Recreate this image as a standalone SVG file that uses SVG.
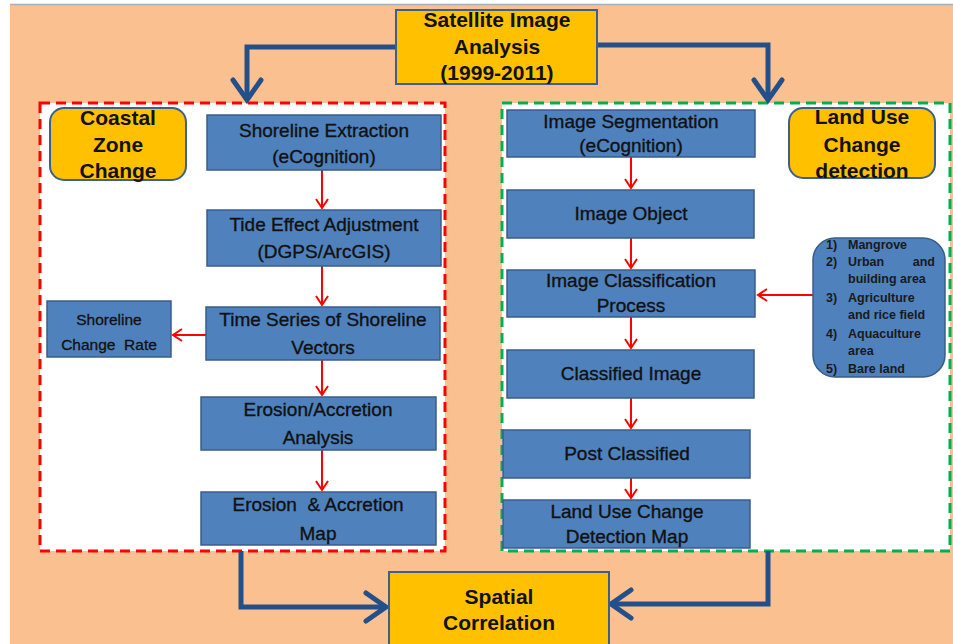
<svg xmlns="http://www.w3.org/2000/svg" width="953" height="644" viewBox="0 0 953 644">
  <style>
    .bg { fill: #FAC090; }
    .panel { fill: #FFFFFF; stroke-width: 3; stroke-dasharray: 10 6; }
    .red-dash { stroke: #FF0000; }
    .green-dash { stroke: #00B050; }
    .step { fill: #4F81BD; stroke: #385D8A; stroke-width: 1.5; }
    .key { fill: #FFC000; stroke: #3C5F8C; stroke-width: 2; }
    .t { font-family: "Liberation Sans", Arial, sans-serif; font-size: 19px; fill: #111111; stroke: #111111; stroke-width: 0.35; text-anchor: middle; }
    .h { font-family: "Liberation Sans", Arial, sans-serif; font-size: 21px; font-weight: bold; fill: #111111; text-anchor: middle; }
    .s { font-family: "Liberation Sans", Arial, sans-serif; font-size: 15.5px; fill: #111111; stroke: #111111; stroke-width: 0.3; text-anchor: middle; }
    .li { font-family: "Liberation Sans", Arial, sans-serif; font-size: 12.5px; font-weight: bold; fill: #1A1A1A; }
    .flow { fill: none; stroke: #FF0000; stroke-width: 2; }
    .main { fill: none; stroke: #24508A; stroke-width: 5; }
  </style>
  <defs>
    <marker id="redHead" viewBox="0 0 10 12" refX="9" refY="6" markerWidth="10" markerHeight="12" markerUnits="userSpaceOnUse" orient="auto" overflow="visible">
      <path d="M0,0 L9,6 L0,12" fill="none" stroke="#FF0000" stroke-width="2"/>
    </marker>
    <marker id="blueHead" viewBox="0 0 22 30" refX="20" refY="15" markerWidth="22" markerHeight="30" markerUnits="userSpaceOnUse" orient="auto" overflow="visible">
      <path d="M0,1 L20,15 L0,29" fill="none" stroke="#24508A" stroke-width="5" stroke-linecap="round" stroke-linejoin="miter"/>
    </marker>
  </defs>

  <!-- canvas -->
  <rect x="0" y="0" width="953" height="644" fill="#FFFFFF"/>
  <rect class="bg" x="10" y="4" width="943" height="640"/>
  <line x1="10" y1="4.5" x2="953" y2="4.5" stroke="#A7AEBB" stroke-width="1.5"/>

  <!-- working areas -->
  <rect id="coastal-panel" class="panel red-dash" x="40" y="103" width="405" height="448"/>
  <rect id="landuse-panel" class="panel green-dash" x="502" y="103" width="448" height="448"/>

  <!-- connectors -->
  <g id="connectors">
    <path class="main" d="M396,47 H247 V100" marker-end="url(#blueHead)"/>
    <path class="main" d="M597,45 H768 V100" marker-end="url(#blueHead)"/>
    <path class="main" d="M241,551 V607 H386" marker-end="url(#blueHead)"/>
    <path class="main" d="M768,551 V604 H611" marker-end="url(#blueHead)"/>

    <path class="flow" d="M322,170 V208" marker-end="url(#redHead)"/>
    <path class="flow" d="M322,266 V305" marker-end="url(#redHead)"/>
    <path class="flow" d="M322,360 V395" marker-end="url(#redHead)"/>
    <path class="flow" d="M322,450 V490" marker-end="url(#redHead)"/>
    <path class="flow" d="M206,335 H173" marker-end="url(#redHead)"/>

    <path class="flow" d="M631,157 V188" marker-end="url(#redHead)"/>
    <path class="flow" d="M631,238 V268" marker-end="url(#redHead)"/>
    <path class="flow" d="M631,317 V348" marker-end="url(#redHead)"/>
    <path class="flow" d="M631,398 V428" marker-end="url(#redHead)"/>
    <path class="flow" d="M631,478 V498" marker-end="url(#redHead)"/>
    <path class="flow" d="M813,295 H758" marker-end="url(#redHead)"/>
  </g>

  <!-- source -->
  <g id="satellite">
    <rect class="key" x="396" y="10" width="201" height="74"/>
    <text class="h" x="497" y="27" font-size="22">Satellite Image</text>
    <text class="h" x="497" y="54" font-size="22">Analysis</text>
    <text class="h" x="497" y="80" font-size="22">(1999-2011)</text>
  </g>

  <!-- coastal zone branch -->
  <g id="coastal-label">
    <rect class="key" x="50" y="108" width="136" height="72" rx="14"/>
    <text class="h" x="118" y="125">Coastal</text>
    <text class="h" x="118" y="152">Zone</text>
    <text class="h" x="118" y="178">Change</text>
  </g>
  <g id="shoreline-extraction">
    <rect class="step" x="207" y="115" width="234" height="55"/>
    <text class="t" x="324" y="137">Shoreline Extraction</text>
    <text class="t" x="324" y="163">(eCognition)</text>
  </g>
  <g id="tide-adjustment">
    <rect class="step" x="207" y="210" width="234" height="56"/>
    <text class="t" x="324" y="231">Tide Effect Adjustment</text>
    <text class="t" x="324" y="258">(DGPS/ArcGIS)</text>
  </g>
  <g id="shoreline-vectors">
    <rect class="step" x="206" y="307" width="234" height="53"/>
    <text class="t" x="323" y="326">Time Series of Shoreline</text>
    <text class="t" x="323" y="354">Vectors</text>
  </g>
  <g id="change-rate">
    <rect class="step" x="47" y="301" width="124" height="56"/>
    <text class="s" x="109" y="325">Shoreline</text>
    <text class="s" x="109" y="350" xml:space="preserve">Change  Rate</text>
  </g>
  <g id="erosion-analysis">
    <rect class="step" x="201" y="397" width="235" height="53"/>
    <text class="t" x="318" y="416">Erosion/Accretion</text>
    <text class="t" x="318" y="444">Analysis</text>
  </g>
  <g id="erosion-map">
    <rect class="step" x="201" y="492" width="235" height="53"/>
    <text class="t" x="318" y="511" xml:space="preserve">Erosion  &amp; Accretion</text>
    <text class="t" x="318" y="540">Map</text>
  </g>

  <!-- land use branch -->
  <g id="landuse-label">
    <rect class="key" x="789" y="108" width="146" height="70" rx="14"/>
    <text class="h" x="862" y="124">Land Use</text>
    <text class="h" x="862" y="152">Change</text>
    <text class="h" x="862" y="178">detection</text>
  </g>
  <g id="segmentation">
    <rect class="step" x="507" y="110" width="248" height="47"/>
    <text class="t" x="631" y="128">Image Segmentation</text>
    <text class="t" x="631" y="152">(eCognition)</text>
  </g>
  <g id="image-object">
    <rect class="step" x="507" y="190" width="247" height="48"/>
    <text class="t" x="631" y="220">Image Object</text>
  </g>
  <g id="classification">
    <rect class="step" x="507" y="270" width="248" height="47"/>
    <text class="t" x="631" y="287">Image Classification</text>
    <text class="t" x="631" y="312">Process</text>
  </g>
  <g id="classes">
    <rect class="step" x="813" y="238" width="132" height="139" rx="22"/>
    <text class="li" x="826" y="249">1)</text><text class="li" x="848" y="249">Mangrove</text>
    <text class="li" x="826" y="266">2)</text><text class="li" x="848" y="266">Urban</text><text class="li" x="935" y="266" text-anchor="end">and</text>
    <text class="li" x="848" y="283">building area</text>
    <text class="li" x="826" y="302">3)</text><text class="li" x="848" y="302">Agriculture</text>
    <text class="li" x="848" y="319">and rice field</text>
    <text class="li" x="826" y="338">4)</text><text class="li" x="848" y="338">Aquaculture</text>
    <text class="li" x="848" y="355">area</text>
    <text class="li" x="826" y="373">5)</text><text class="li" x="848" y="373">Bare land</text>
  </g>
  <g id="classified-image">
    <rect class="step" x="507" y="350" width="247" height="48"/>
    <text class="t" x="631" y="380">Classified Image</text>
  </g>
  <g id="post-classified">
    <rect class="step" x="503" y="430" width="247" height="48"/>
    <text class="t" x="627" y="460">Post Classified</text>
  </g>
  <g id="landuse-map">
    <rect class="step" x="503" y="500" width="247" height="48"/>
    <text class="t" x="627" y="518">Land Use Change</text>
    <text class="t" x="627" y="543">Detection Map</text>
  </g>

  <!-- result -->
  <g id="spatial-correlation">
    <rect class="key" x="389" y="572" width="220" height="80"/>
    <text class="h" x="499" y="604" font-size="22">Spatial</text>
    <text class="h" x="499" y="630" font-size="22">Correlation</text>
  </g>
</svg>
